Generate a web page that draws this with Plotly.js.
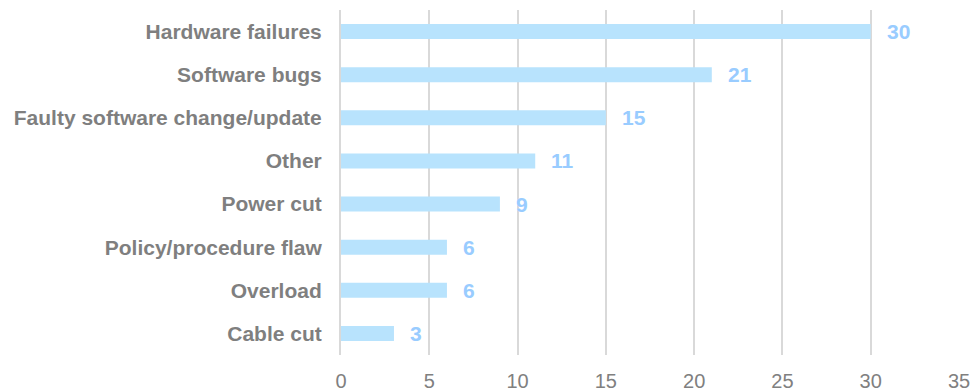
<!DOCTYPE html>
<html><head><meta charset="utf-8">
<script src="https://cdn.plot.ly/plotly-3.0.1.min.js"></script>
<style>html,body{margin:0;padding:0;background:#fff}#chart{width:971px;height:392px}</style>
</head><body><div id="chart"></div>
<script>
const categories = ["Hardware failures","Software bugs","Faulty software change/update","Other","Power cut","Policy/procedure flaw","Overload","Cable cut"];
const values = [30,21,15,11,9,6,6,3];
const xTicks = [0,5,10,15,20,25,30,35];

const trace = {
  type: 'bar', orientation: 'h',
  x: values, y: categories,
  marker: {color: '#B8E3FD'},
  width: 0.35,
  hoverinfo: 'none'
};
const annotations = categories.map((c,i)=>({
  x: values[i], y: c, xref:'x', yref:'y', text: String(values[i]),
  showarrow:false, xanchor:'left', yanchor:'middle', xshift: 14,
  font:{family:'Liberation Sans, Arial, sans-serif', size:21, color:'#99CCFF', weight:'bold'}
}));
const layout = {
  width:971, height:392,
  margin:{l:341, r:12, t:10, b:37},
  paper_bgcolor:'#fff', plot_bgcolor:'#fff',
  showlegend:false,
  bargap:0.65,
  xaxis:{range:[0,35], tickvals:xTicks, ticktext:xTicks.map(String), showgrid:true, gridcolor:'#D9D9D9', gridwidth:2,
    zeroline:false, showline:false, ticks:'', ticklabelstandoff:12,
    tickfont:{family:'Liberation Sans, Arial, sans-serif', size:20, color:'#808080'}},
  yaxis:{autorange:'reversed', showgrid:false, zeroline:false, showline:true, linecolor:'#D9D9D9', linewidth:2,
    ticks:'', ticklabelstandoff:13,
    tickfont:{family:'Liberation Sans, Arial, sans-serif', size:21, color:'#7F7F7F', weight:'bold'}},
  annotations: annotations
};
Plotly.newPlot('chart',[trace],layout,{displayModeBar:false, staticPlot:true});
</script></body></html>
